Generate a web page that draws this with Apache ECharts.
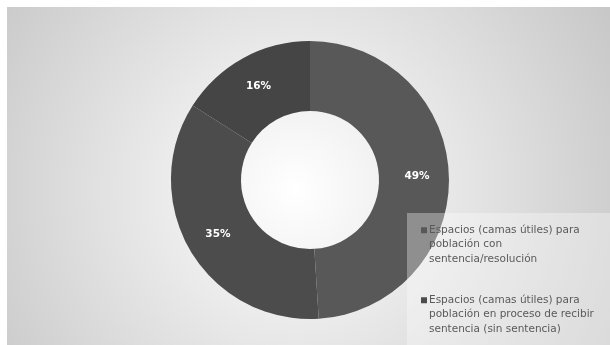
<!DOCTYPE html>
<html>
<head>
<meta charset="utf-8">
<script src="https://cdn.jsdelivr.net/npm/echarts@6/dist/echarts.min.js"></script>
<style>
  html, body { margin: 0; padding: 0; background: #ffffff; }
  #chart { width: 610px; height: 345px; }
</style>
</head>
<body>
<div id="chart"></div>
<script>
var categories = [
  'Espacios (camas útiles) para población con sentencia/resolución',
  'Espacios (camas útiles) para población en proceso de recibir sentencia (sin sentencia)',
  'Otros espacios'
];
// legend lines as they wrap in the picture
var legendLines = {
  'Espacios (camas útiles) para población con sentencia/resolución':
    'Espacios (camas útiles) para\npoblación con\nsentencia/resolución',
  'Espacios (camas útiles) para población en proceso de recibir sentencia (sin sentencia)':
    'Espacios (camas útiles) para\npoblación en proceso de recibir\nsentencia (sin sentencia)'
};
var values = [49, 35, 16];
var sliceColors = ['#585858', '#4c4c4c', '#454545'];

var chart = echarts.init(document.getElementById('chart'));

var option = {
  animation: false,
  color: sliceColors,
  graphic: [
    {
      type: 'rect',
      z: -10,
      shape: { x: 7, y: 7, width: 603, height: 338 },
      style: {
        fill: new echarts.graphic.RadialGradient(295, 190, 400, [
          { offset: 0, color: '#ffffff' },
          { offset: 1, color: '#c2c2c2' }
        ], true)
      }
    },
    {
      // legend panel, drawn over the ring
      type: 'rect',
      z: 3,
      shape: { x: 407, y: 213, width: 203, height: 132 },
      style: { fill: 'rgba(255,255,255,0.33)' }
    }
  ],
  legend: {
    orient: 'vertical',
    data: categories.slice(0, 2),
    left: 421,
    top: 194,
    padding: 0,
    itemGap: -2.5,
    itemWidth: 6,
    itemHeight: 6,
    icon: 'rect',
    selectedMode: false,
    formatter: function (name) {
      // two empty lines on top keep the marker beside the first line
      return '\n\n' + legendLines[name];
    },
    textStyle: {
      color: '#5a5a5a',
      fontFamily: 'DejaVu Sans',
      fontSize: 10.5,
      lineHeight: 14.5,
      padding: [0, 0, 0, -3]
    }
  },
  series: [
    {
      type: 'pie',
      center: [310, 180],
      radius: [69, 139],
      startAngle: 90,
      clockwise: true,
      silent: true,
      label: {
        position: 'inside',
        formatter: '{c}%',
        color: '#ffffff',
        fontFamily: 'DejaVu Sans',
        fontWeight: 'bold',
        fontSize: 10.5
      },
      labelLine: { show: false },
      emphasis: { disabled: true },
      itemStyle: { borderWidth: 0 },
      data: categories.map(function (name, i) {
        return { name: name, value: values[i] };
      })
    }
  ]
};

chart.setOption(option);
</script>
</body>
</html>
